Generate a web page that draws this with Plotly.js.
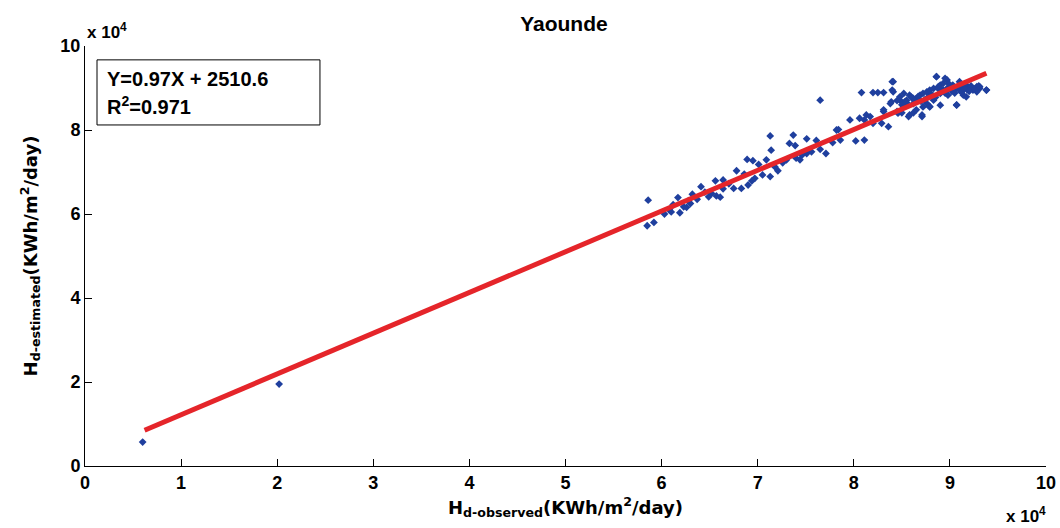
<!DOCTYPE html>
<html>
<head>
<meta charset="utf-8">
<script src="https://cdn.plot.ly/plotly-3.0.1.min.js"></script>
<style>html,body{margin:0;padding:0;background:#fff;}#chart{width:1060px;height:528px;}</style>
</head>
<body>
<div id="chart"></div>
<script>
// Values in units of 10^4 KWh/m^2/day
const observed = [
  0.60, 2.02,
  5.86, 5.85, 5.92, 6.03, 6.10, 6.17, 6.19, 6.23, 6.26, 6.30, 6.32, 6.37, 6.41, 6.49, 6.52, 6.56, 6.57, 6.61,
  6.64, 6.64, 6.75, 6.78, 6.83, 6.89, 6.90, 6.94, 6.95, 6.97, 7.01, 7.05, 7.09, 7.13, 7.13, 7.14, 7.21, 7.30,
  7.33, 7.37, 7.39, 7.40, 7.44, 7.46, 7.51, 7.51, 7.61, 7.65, 7.71, 7.65, 7.82, 7.84, 7.86, 7.96, 8.02, 8.06,
  8.11, 8.11, 8.13, 8.17, 8.20, 8.29, 8.31, 8.36, 8.31, 8.39, 8.40, 8.40, 8.45, 8.48, 8.50, 8.53, 8.57, 8.62,
  8.62, 8.71, 8.76, 8.79, 8.83, 8.86, 8.90, 8.93, 8.97, 9.07, 9.10, 9.17, 9.23, 9.28, 9.31, 9.38, 8.08, 8.20,
  8.25, 8.31, 8.38,
  8.41, 8.41, 8.48, 8.52, 8.55, 8.58, 8.62, 8.65, 8.69, 8.72, 8.76, 8.79, 8.83, 8.86, 8.88, 8.90, 8.93, 8.95,
  8.97, 9.00, 9.03, 9.07, 9.10, 9.14, 9.17, 9.21, 9.24, 9.28, 9.31, 9.38, 9.07, 8.71, 8.58, 8.52, 8.46, 8.79,
  8.90, 8.72, 8.65, 8.83, 8.98, 9.14, 9.28,
  8.60, 8.67, 8.74, 8.81, 8.85, 8.92, 8.95, 9.02, 9.05, 9.12, 9.18, 9.22, 9.26, 8.55, 8.63, 8.70, 8.78, 8.88,
  8.99, 9.09, 9.15, 9.20, 9.30, 8.50, 8.45,
  6.08, 6.12, 6.28, 6.45, 6.70, 6.86, 7.18, 7.26, 7.56, 7.78
];
const estimated = [
  0.57, 1.95,
  6.33, 5.72, 5.80, 6.00, 6.05, 6.39, 6.03, 6.17, 6.16, 6.25, 6.47, 6.35, 6.65, 6.41, 6.49, 6.79, 6.43, 6.40,
  6.81, 6.60, 6.61, 7.03, 6.61, 7.30, 6.69, 6.79, 7.27, 6.85, 7.18, 6.93, 7.29, 6.89, 7.86, 7.52, 7.03, 7.29,
  7.68, 7.88, 7.63, 7.33, 7.29, 7.40, 7.79, 7.44, 7.75, 7.54, 7.44, 8.71, 8.00, 8.01, 7.76, 8.24, 7.74, 8.28,
  8.24, 7.76, 8.36, 8.32, 8.16, 8.16, 8.44, 8.08, 8.48, 8.67, 8.95, 9.15, 8.44, 8.71, 8.41, 8.67, 8.32, 8.41,
  8.75, 8.32, 8.63, 8.56, 8.75, 9.27, 8.59, 8.95, 9.19, 8.59, 9.15, 8.79, 8.99, 8.99, 9.03, 8.95, 8.89, 8.89,
  8.89, 8.89, 8.63,
  9.15, 8.91, 8.79, 8.87, 8.71, 8.83, 8.63, 8.75, 8.83, 8.87, 8.91, 8.95, 8.99, 9.27, 9.03, 9.07, 9.11, 9.23,
  8.99, 9.03, 9.07, 8.99, 8.95, 9.03, 9.07, 8.99, 8.95, 9.03, 8.99, 8.95, 8.60, 8.36, 8.36, 8.55, 8.40, 8.55,
  8.87, 8.55, 8.48, 8.71, 8.83, 8.83, 8.91,
  8.78, 8.80, 8.72, 8.85, 8.78, 8.95, 8.88, 8.92, 8.88, 8.90, 8.96, 9.05, 8.98, 8.65, 8.70, 8.68, 8.80, 8.98,
  9.10, 9.05, 8.98, 8.92, 9.05, 8.60, 8.70,
  6.10, 6.22, 6.32, 6.52, 6.72, 6.95, 7.12, 7.22, 7.48, 7.70
];
// Linear fit: Y = 0.97X + 2510.6  (R^2 = 0.971)
const fitSlope = 0.97;
const fitIntercept = 2510.6;
const fitRange = [0.62, 9.38];
const xTicks = [0, 1, 2, 3, 4, 5, 6, 7, 8, 9, 10];
const yTicks = [0, 2, 4, 6, 8, 10];
const chartTitle = 'Yaounde';
const eqText = 'Y=0.97X + 2510.6';
const r2Text = 'R<sup>2</sup>=0.971';

const fitY = fitRange.map(x => fitSlope * x + fitIntercept / 1e4);

const FONT = '"Liberation Sans", Arial, sans-serif';
const FONTW = '"DejaVu Sans", Verdana, sans-serif';

const traces = [
  {
    x: observed, y: estimated, type: 'scatter', mode: 'markers',
    marker: {symbol: 'diamond', size: 6, color: '#1f3f9e', line: {width: 0}},
    hoverinfo: 'x+y', showlegend: false
  },
  {
    x: fitRange, y: fitY, type: 'scatter', mode: 'lines',
    line: {color: '#e5252a', width: 5}, showlegend: false
  }
];

const layout = {
  width: 1060, height: 528,
  margin: {l: 85, r: 14, t: 46, b: 62, pad: 0},
  paper_bgcolor: '#ffffff', plot_bgcolor: '#ffffff',
  title: {text: '<b>' + chartTitle + '</b>', x: 0.532, xanchor: 'center', y: 0.955, yanchor: 'middle',
          font: {family: FONT, size: 21, color: '#000'}},
  xaxis: {
    range: [0, 10], tickvals: xTicks, ticktext: xTicks.map(v => '<b>' + v + '</b>'),
    ticks: 'inside', ticklen: 7, tickcolor: '#000', tickwidth: 1,
    showline: true, linecolor: '#000', linewidth: 1, showgrid: false, zeroline: false, mirror: false,
    tickfont: {family: FONT, size: 18, color: '#000'},
    title: {text: '<b>H<sub>d-observed</sub>(KWh/m<sup>2</sup>/day)</b>', standoff: 9,
            font: {family: FONTW, size: 18, color: '#000'}}
  },
  yaxis: {
    range: [0, 10], tickvals: yTicks, ticktext: yTicks.map(v => '<b>' + v + '</b>'),
    ticks: 'inside', ticklen: 7, tickcolor: '#000', tickwidth: 1,
    showline: true, linecolor: '#000', linewidth: 1, showgrid: false, zeroline: false, mirror: false,
    tickfont: {family: FONT, size: 18, color: '#000'},
    title: {text: '<b>H<sub>d-estimated</sub>(KWh/m<sup>2</sup>/day)</b>', standoff: 18,
            font: {family: FONTW, size: 18, color: '#000'}}
  },
  shapes: [
    {type: 'rect', xref: 'paper', yref: 'paper', x0: 0.0125, x1: 0.2445, y0: 0.812, y1: 0.967,
     line: {color: '#000', width: 1}, fillcolor: 'rgba(255,255,255,0)'}
  ],
  annotations: [
    {xref: 'paper', yref: 'paper', x: 0.0205, y: 0.921, xanchor: 'left', yanchor: 'middle', showarrow: false,
     text: '<b>' + eqText + '</b>', font: {family: FONT, size: 20, color: '#000'}},
    {xref: 'paper', yref: 'paper', x: 0.0205, y: 0.858, xanchor: 'left', yanchor: 'middle', showarrow: false,
     text: '<b>' + r2Text + '</b>', font: {family: FONT, size: 20, color: '#000'}},
    {xref: 'paper', yref: 'paper', x: 0.0, y: 1.0, xanchor: 'left', yanchor: 'bottom', yshift: 2, showarrow: false,
     text: '<b>x 10<sup>4</sup></b>', font: {family: FONT, size: 17, color: '#000'}},
    {xref: 'paper', yref: 'paper', x: 1.0, y: 0, xanchor: 'right', yanchor: 'top', yshift: -36, xshift: 2, showarrow: false,
     text: '<b>x 10<sup>4</sup></b>', font: {family: FONT, size: 17, color: '#000'}}
  ]
};

Plotly.newPlot('chart', traces, layout, {displayModeBar: false, staticPlot: true});
</script>
</body>
</html>
